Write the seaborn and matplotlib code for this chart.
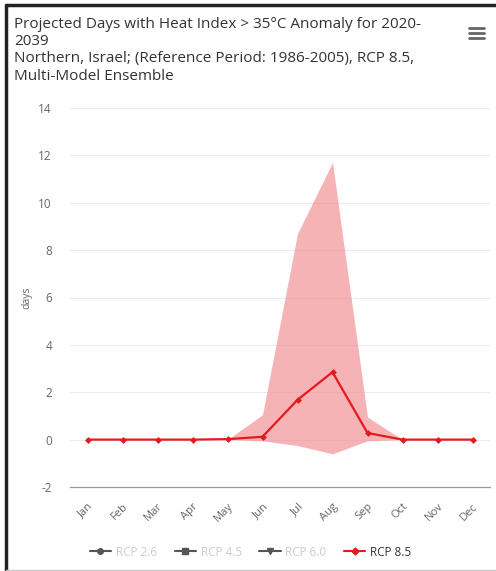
import matplotlib
matplotlib.use("Agg")
import matplotlib.pyplot as plt
from matplotlib.lines import Line2D
import seaborn as sns
import pandas as pd
import numpy as np

months = ['Jan', 'Feb', 'Mar', 'Apr', 'May', 'Jun',
          'Jul', 'Aug', 'Sep', 'Oct', 'Nov', 'Dec']
rcp85_mean = [0, 0, 0, 0, 0.02, 0.12, 1.68, 2.85, 0.28, 0, 0, 0]
rcp85_upper = [0, 0, 0, 0, 0.0, 1.05, 8.7, 11.7, 0.95, 0, 0, 0]
rcp85_lower = [0, 0, 0, 0, 0.0, -0.05, -0.25, -0.6, -0.05, 0, 0, 0]
y_ticks = [-2, 0, 2, 4, 6, 8, 10, 12, 14]
legend_names = ['RCP 2.6', 'RCP 4.5', 'RCP 6.0', 'RCP 8.5']

sns.set_style('white')
plt.rcParams['font.family'] = ['Open Sans', 'DejaVu Sans']

df = pd.DataFrame({'month': months, 'idx': np.arange(len(months)),
                   'mean': rcp85_mean, 'upper': rcp85_upper, 'lower': rcp85_lower})

fig = plt.figure(figsize=(4.96, 5.71), dpi=100)
ax = fig.add_axes([70 / 496, 1 - 487 / 571, 420 / 496, 379 / 571])

red = '#e41a1c'
ax.fill_between(df['idx'], df['lower'], df['upper'], color='#f08a90', alpha=0.65,
                linewidth=0, zorder=1)
sns.lineplot(data=df, x='idx', y='mean', ax=ax, color=red, linewidth=1.6,
             marker='D', markersize=3.5, markeredgewidth=0, zorder=3)

ax.set_xlim(-0.5, 11.5)
ax.set_ylim(-2, 14)
ax.set_yticks(y_ticks)
ax.set_yticklabels([str(t) for t in y_ticks], color='#666666', fontsize=8.5)
ax.set_xticks(df['idx'])
ax.set_xticklabels(months, rotation=45, color='#666666', fontsize=8,
                   ha='right', rotation_mode='anchor')
ax.tick_params(axis='x', pad=10, length=0)
ax.tick_params(axis='y', pad=13, length=0)
ax.set_xlabel('')
ax.set_ylabel('days', color='#666666', fontsize=7.5, labelpad=4)

for t in y_ticks[1:]:
    ax.axhline(t, color='#ececec', linewidth=0.8, zorder=0)
for s in ['top', 'right', 'left']:
    ax.spines[s].set_visible(False)
ax.spines['bottom'].set_color('#999999')
ax.spines['bottom'].set_linewidth(0.9)

# legend
handles = [
    Line2D([], [], color='#555555', marker='o', markersize=4, linewidth=1.5),
    Line2D([], [], color='#555555', marker='s', markersize=4, linewidth=1.5),
    Line2D([], [], color='#555555', marker='v', markersize=4, linewidth=1.5),
    Line2D([], [], color=red, marker='D', markersize=3.5, linewidth=1.5),
]
leg = fig.legend(handles, legend_names, loc='center', ncol=4, frameon=False,
                 bbox_to_anchor=(0.505, 1 - 552 / 571), fontsize=8.5,
                 handlelength=1.8, columnspacing=1.5, handletextpad=0.4)
for i, txt in enumerate(leg.get_texts()):
    txt.set_color('#333333' if i == 3 else '#cccccc')

# title
fig.text(14 / 496, 1 - 17 / 571,
         'Projected Days with Heat Index > 35°C Anomaly for 2020-\n2039\n'
         'Northern, Israel; (Reference Period: 1986-2005), RCP 8.5,\n'
         'Multi-Model Ensemble',
         ha='left', va='top', fontsize=11, color='#333333', linespacing=1.2)

# menu icon
for yy in [28, 33, 38]:
    fig.add_artist(Line2D([469 / 496, 484 / 496], [1 - yy / 571, 1 - yy / 571],
                          color='#666666', linewidth=2))

# frame
fig.add_artist(Line2D([6 / 496, 6 / 496], [0, 1 - 5 / 571], color='#222222', linewidth=2.5))
fig.add_artist(Line2D([6 / 496, 1], [1 - 5 / 571, 1 - 5 / 571], color='#222222', linewidth=2.5))
fig.add_artist(Line2D([6 / 496, 1], [1 / 571, 1 / 571], color='#cccccc', linewidth=1))

fig.savefig('out.png', dpi=100)
